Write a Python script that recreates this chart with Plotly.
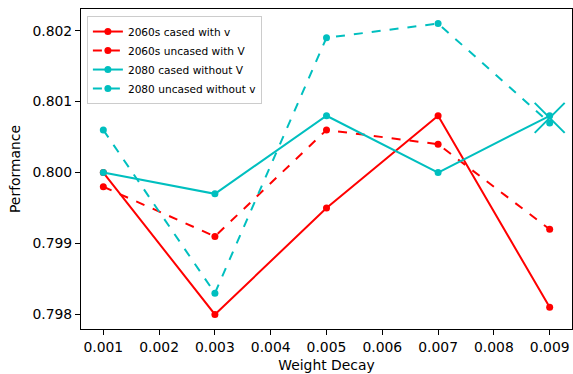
import plotly.graph_objects as go

weight_decay = [0.001, 0.003, 0.005, 0.007, 0.009]
cased_2060 = [0.8000, 0.7980, 0.7995, 0.8008, 0.7981]
uncased_2060 = [0.7998, 0.7991, 0.8006, 0.8004, 0.7992]
cased_2080 = [0.8000, 0.7997, 0.8008, 0.8000, 0.8008]
uncased_2080 = [0.8006, 0.7983, 0.8019, 0.8021, 0.8007]
highlight_x = [0.009]
highlight_y = [0.80077]
x_ticks = [0.001, 0.002, 0.003, 0.004, 0.005, 0.006, 0.007, 0.008, 0.009]
x_ticktext = ["0.001", "0.002", "0.003", "0.004", "0.005", "0.006", "0.007", "0.008", "0.009"]
y_ticks = [0.798, 0.799, 0.800, 0.801, 0.802]
y_ticktext = ["0.798", "0.799", "0.800", "0.801", "0.802"]

RED = "#ff0000"
CYAN = "#00bfbf"
FONT = "DejaVu Sans"

fig = go.Figure()
series = [
    ("2060s cased with v", cased_2060, RED, "solid"),
    ("2060s uncased with V", uncased_2060, RED, "dash"),
    ("2080 cased without V", cased_2080, CYAN, "solid"),
    ("2080 uncased without v", uncased_2080, CYAN, "dash"),
]
for name, ys, col, dash in series:
    fig.add_trace(go.Scatter(
        x=weight_decay, y=ys, name=name, mode="lines+markers",
        line=dict(color=col, width=2, dash=dash),
        marker=dict(color=col, size=7),
    ))

fig.add_trace(go.Scatter(
    x=highlight_x, y=highlight_y, mode="markers", showlegend=False, cliponaxis=False,
    marker=dict(symbol="x-thin", size=30, line=dict(color=CYAN, width=2), color=CYAN),
))

axis_common = dict(
    showline=True, linecolor="black", linewidth=1, mirror=True,
    ticks="outside", ticklen=5, tickcolor="black", showgrid=False, zeroline=False,
    tickfont=dict(family=FONT, size=13.9, color="black"),
)
fig.update_xaxes(
    range=[0.0006, 0.0094], tickvals=x_ticks, ticktext=x_ticktext,
    title=dict(text="Weight Decay", font=dict(family=FONT, size=13.9, color="black"), standoff=6),
    **axis_common,
)
fig.update_yaxes(
    range=[0.797795, 0.802305], tickvals=y_ticks, ticktext=y_ticktext,
    title=dict(text="Performance", font=dict(family=FONT, size=13.9, color="black"), standoff=8),
    **axis_common,
)
fig.update_layout(
    width=573, height=374,
    margin=dict(l=81, r=1, t=9, b=45),
    plot_bgcolor="white", paper_bgcolor="white",
    font=dict(family=FONT, color="black"),
    legend=dict(
        x=0.012, y=0.978, xanchor="left", yanchor="top",
        bgcolor="rgba(255,255,255,0.8)", bordercolor="#cccccc", borderwidth=1,
        font=dict(family=FONT, size=10.6, color="black"),
        tracegroupgap=0, itemwidth=30,
    ),
)
fig.write_html(
    "out.html",
    config={"displayModeBar": False},
    post_script="document.body.style.margin='0';document.documentElement.style.overflow='hidden';",
)
